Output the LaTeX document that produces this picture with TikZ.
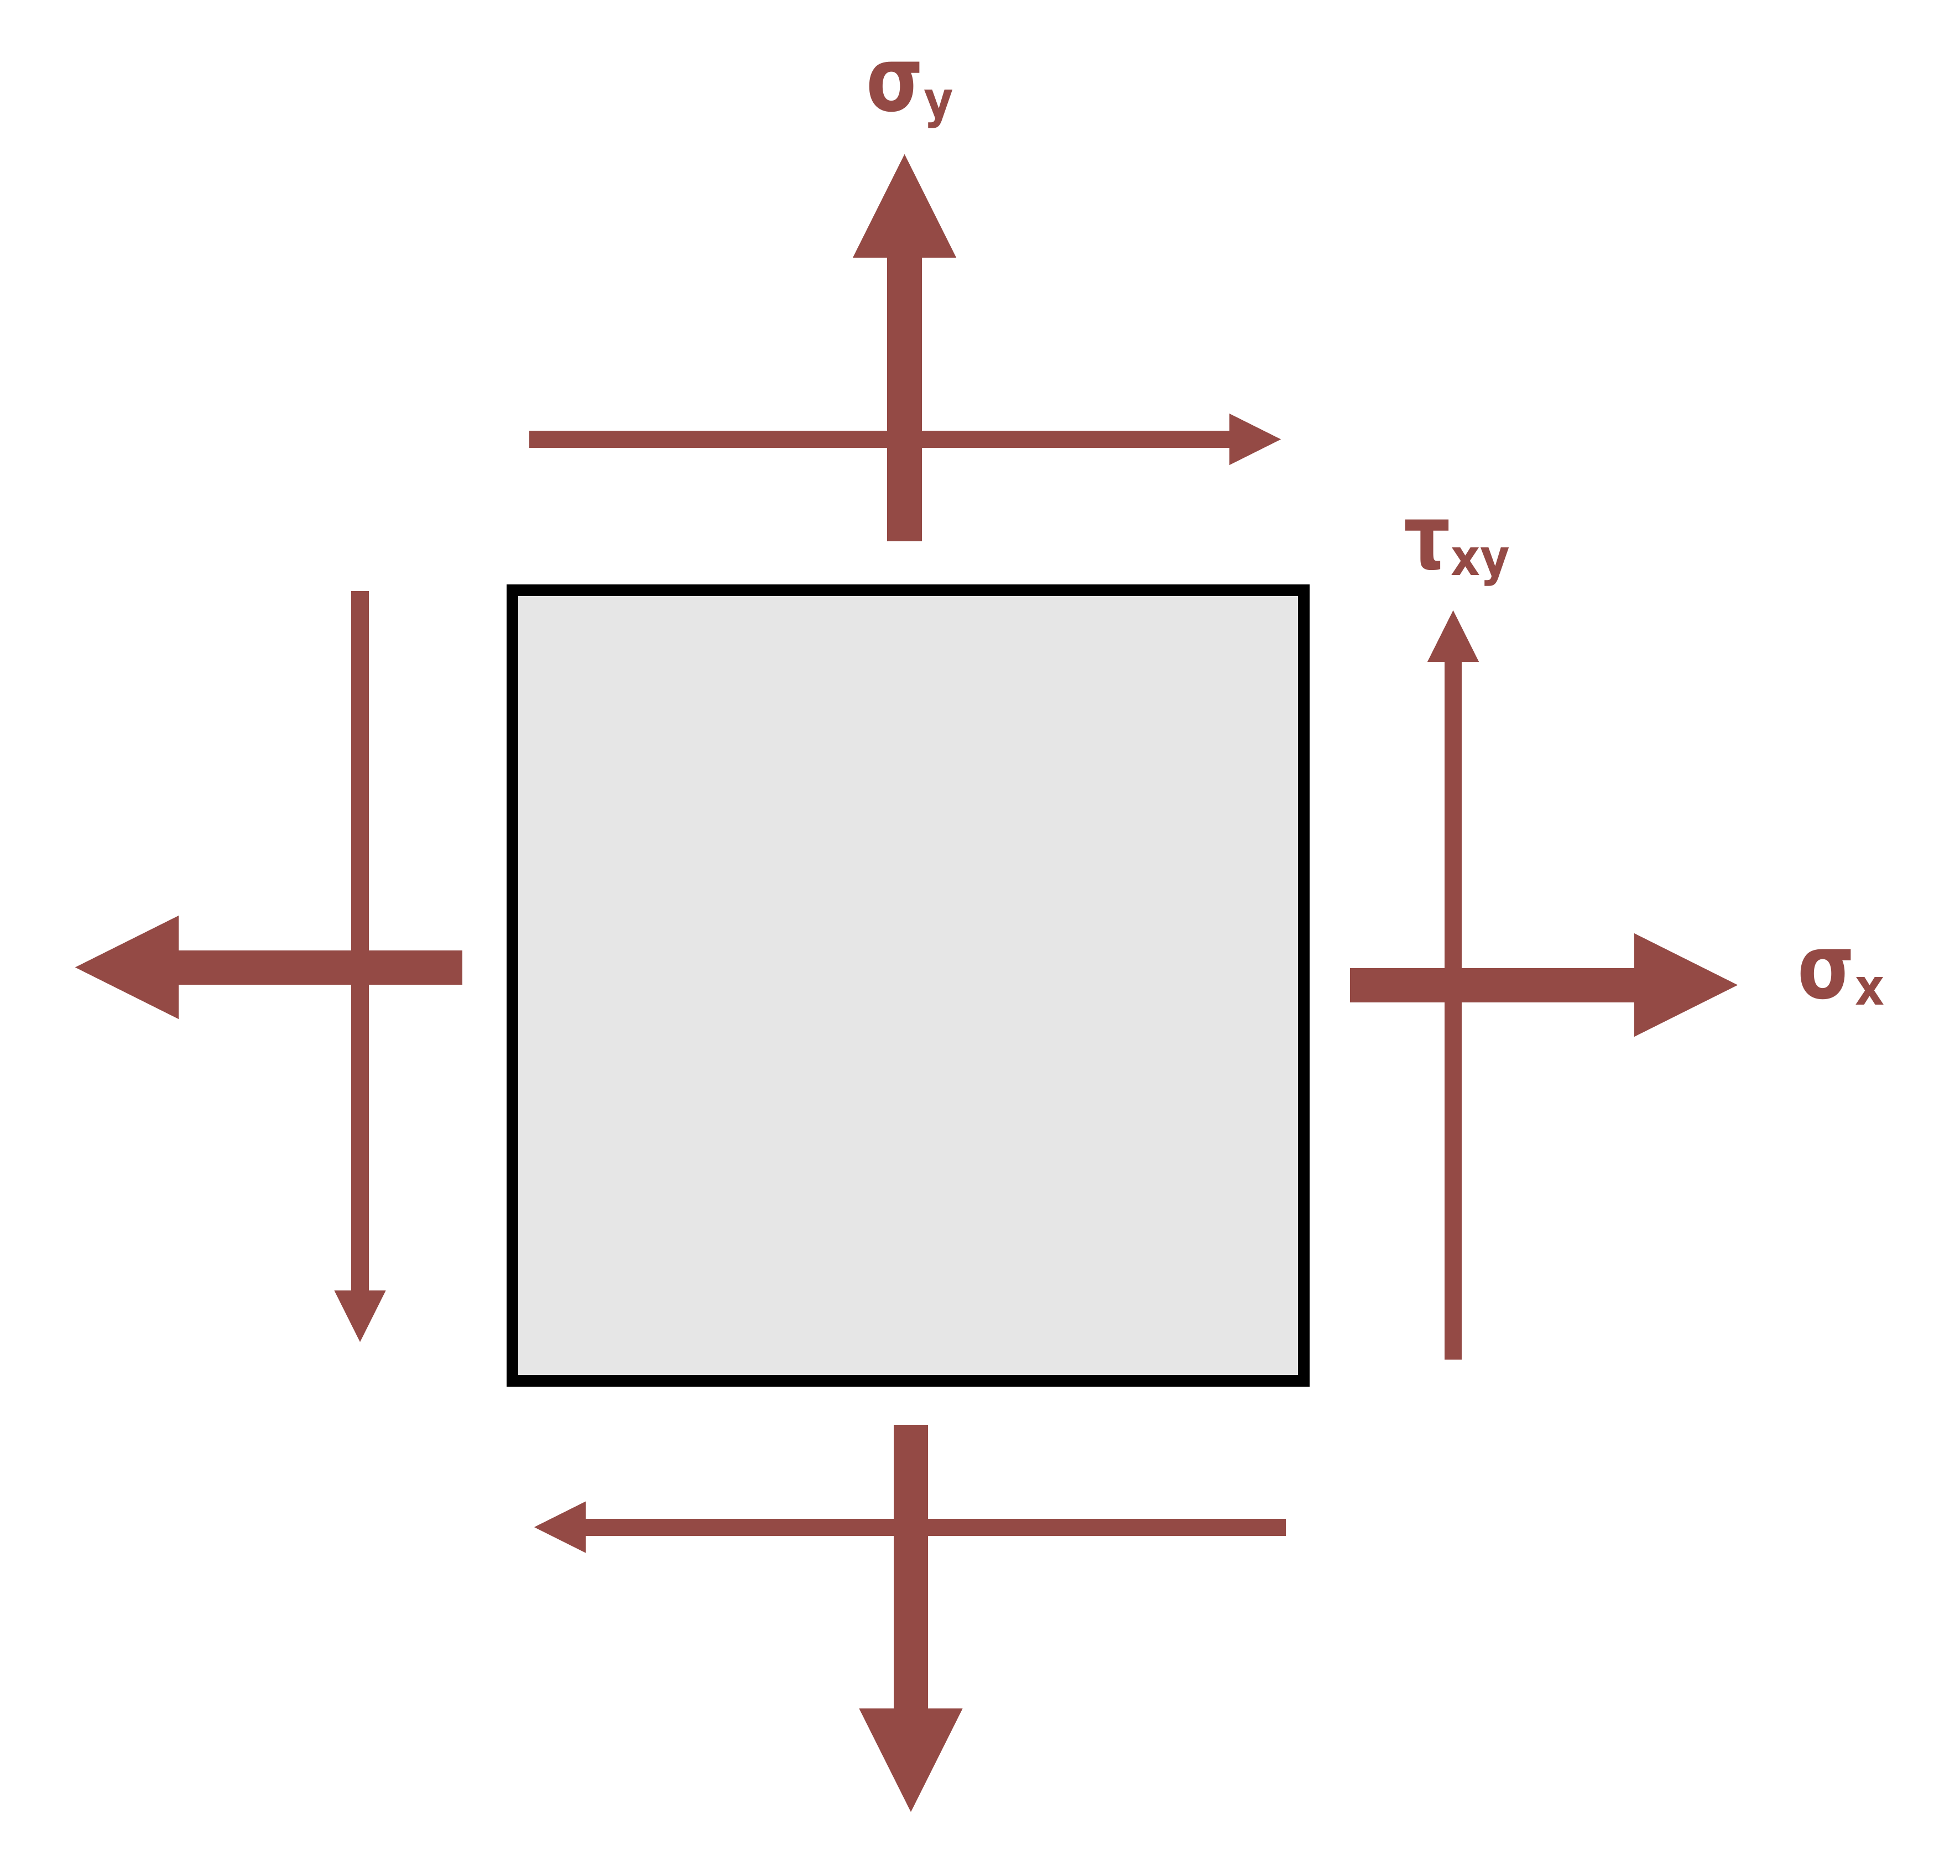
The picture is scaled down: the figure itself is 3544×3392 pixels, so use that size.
\documentclass[tikz,border=0pt]{standalone}
\usepackage{fontspec}
\setmainfont{DejaVu Sans}
\newfontfamily\stressfont{DejaVu Sans}[FakeStretch=0.82]
\newfontfamily\stresssubfont{DejaVu Sans}[FakeStretch=0.9]
\usetikzlibrary{arrows.meta}
\definecolor{stressred}{RGB}{148,74,69}
\definecolor{elemgray}{RGB}{230,230,230}
\tikzset{
  bigarrow/.style={draw=stressred, line width=0.62cm, -{Triangle[length=1.87cm,width=1.87cm,line width=0pt]}},
  thinarrow/.style={draw=stressred, line width=0.31cm, -{Triangle[length=0.93cm,width=0.93cm,line width=0pt]}},
  stresslabel/.style={text=stressred, inner sep=0pt, anchor=base west,
    font=\stressfont\bfseries\fontsize{46}{50}\selectfont},
}
\newcommand{\stresssub}[1]{{\stresssubfont\bfseries\fontsize{26}{28}\selectfont\raisebox{-0.12cm}{#1}}}
\begin{document}
\begin{tikzpicture}[x=0.01cm, y=-0.01cm]
  \useasboundingbox (0,0) rectangle (3544,3392);
  % element
  \draw[line width=0.21cm, fill=elemgray] (926.5,1067.5) rectangle (2357,2497.5);
  % arrow end points
  \coordinate (ny0) at (1635.5,979);   \coordinate (ny1) at (1635.5,279);
  \coordinate (nt0) at (957,794.5);    \coordinate (nt1) at (2316,794.5);
  \coordinate (sy0) at (1647,2577);    \coordinate (sy1) at (1647,3277);
  \coordinate (st0) at (2325,2762);    \coordinate (st1) at (966,2762);
  \coordinate (wx0) at (836,1749.5);   \coordinate (wx1) at (136,1749.5);
  \coordinate (wt0) at (651,1069);     \coordinate (wt1) at (651,2427);
  \coordinate (ex0) at (2441,1781.5);  \coordinate (ex1) at (3142,1781.5);
  \coordinate (et0) at (2627.5,2459);  \coordinate (et1) at (2627.5,1104);
  % shear
  \begin{scope}[thinarrow]
    \draw (nt0) -- (nt1);
    \draw (st0) -- (st1);
    \draw (wt0) -- (wt1);
    \draw (et0) -- (et1);
  \end{scope}
  % normal
  \begin{scope}[bigarrow]
    \draw (ny0) -- (ny1);
    \draw (sy0) -- (sy1);
    \draw (wx0) -- (wx1);
    \draw (ex0) -- (ex1);
  \end{scope}
  \node[stresslabel] (sigy) at (1566,200) {σ\stresssub{y}};
  \node[stresslabel] (tauxy) at (2538,1028) {τ\stresssub{xy}};
  \node[stresslabel] (sigx) at (3250,1805) {σ\stresssub{x}};
\end{tikzpicture}
\end{document}
